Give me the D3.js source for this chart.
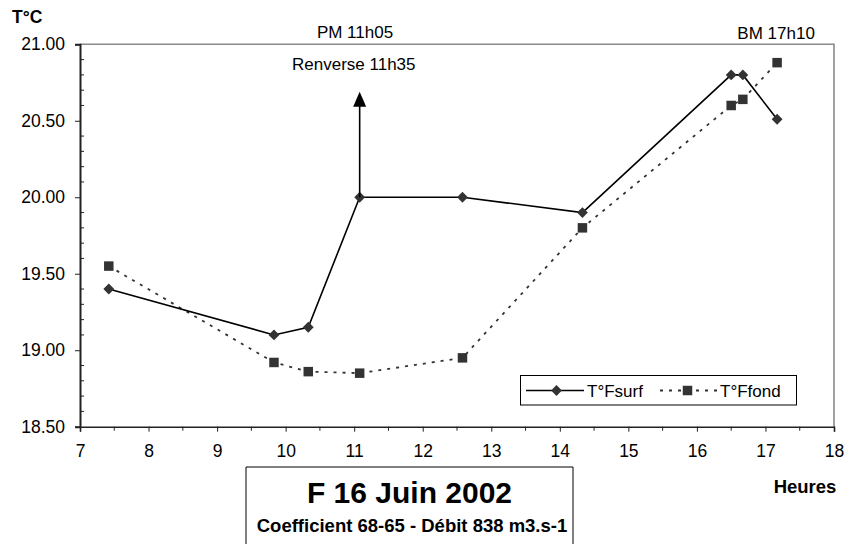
<!DOCTYPE html>
<html>
<head>
<meta charset="utf-8">
<script src="https://cdn.jsdelivr.net/npm/d3@7/dist/d3.min.js"></script>
<style>
  html, body { margin: 0; padding: 0; background: #fff; }
  svg { display: block; font-family: "Liberation Sans", Arial, sans-serif; }
</style>
</head>
<body>
<svg id="chart" width="854" height="544"></svg>
<script>
// Sampling times (decimal hours) and temperatures (°C)
const heures = [7.42, 9.83, 10.33, 11.08, 12.58, 14.33, 16.5, 16.67, 17.17];
const tSurf  = [19.40, 19.10, 19.15, 20.00, 20.00, 19.90, 20.80, 20.80, 20.51];
const tFond  = [19.55, 18.92, 18.86, 18.85, 18.95, 19.80, 20.60, 20.64, 20.88];

const xTicks = [7, 8, 9, 10, 11, 12, 13, 14, 15, 16, 17, 18];
const yTicks = [18.5, 19.0, 19.5, 20.0, 20.5, 21.0];
const seriesNames = ["T°Fsurf", "T°Ffond"];

// Tide annotations
const pleineMer = { label: "PM 11h05", t: 11.08 };
const basseMer  = { label: "BM 17h10", t: 17.17 };
const renverse  = { label: "Renverse 11h35", t: 11.08, from: 20.00, to: 20.69 };

const svg = d3.select("#chart");
const plot = { left: 80, right: 834, top: 44.3, bottom: 426.7 };

const x = d3.scaleLinear().domain([7, 18]).range([plot.left, plot.right]);
const y = d3.scaleLinear().domain([18.5, 21]).range([plot.bottom, plot.top]);

// Plot frame: grey top and right edges
svg.append("path")
  .attr("d", `M${plot.left},${plot.top}H${plot.right}V${plot.bottom}`)
  .attr("fill", "none").attr("stroke", "#8a8a8a").attr("stroke-width", 1.6);

// Minor ticks
const yMinor = d3.range(18.6, 21.0, 0.1).filter(v => Math.abs(v * 2 - Math.round(v * 2)) > 1e-6);
svg.append("g").selectAll("line").data(yMinor).join("line")
  .attr("x1", plot.left).attr("x2", plot.left + 4)
  .attr("y1", d => y(d)).attr("y2", d => y(d))
  .attr("stroke", "#222").attr("stroke-width", 1);
const xMinor = d3.range(7.5, 18, 1);
svg.append("g").selectAll("line").data(xMinor).join("line")
  .attr("x1", d => x(d)).attr("x2", d => x(d))
  .attr("y1", plot.bottom).attr("y2", plot.bottom + 4)
  .attr("stroke", "#222").attr("stroke-width", 1);

// Y axis
const yAxis = svg.append("g").attr("transform", `translate(${plot.left},0)`)
  .call(d3.axisLeft(y).tickValues(yTicks).tickFormat(d3.format(".2f")).tickSize(5).tickPadding(10));
yAxis.select(".domain").attr("stroke", "#222").attr("stroke-width", 2);
yAxis.selectAll(".tick line").attr("stroke", "#222");
yAxis.selectAll("text").attr("font-size", 17.5).attr("fill", "#000")
  .attr("font-family", "Liberation Sans, Arial, sans-serif");

// X axis
const xAxis = svg.append("g").attr("transform", `translate(0,${plot.bottom})`)
  .call(d3.axisBottom(x).tickValues(xTicks).tickFormat(d3.format("d")).tickSize(5).tickPadding(13));
xAxis.select(".domain").attr("stroke", "#222").attr("stroke-width", 1.6);
xAxis.selectAll(".tick line").attr("stroke", "#222");
xAxis.selectAll("text").attr("font-size", 17.5).attr("fill", "#000")
  .attr("font-family", "Liberation Sans, Arial, sans-serif");

// Axis titles
svg.append("text").attr("x", 12).attr("y", 23).attr("font-size", 17.5).attr("font-weight", "bold").text("T°C");
svg.append("text").attr("x", 805).attr("y", 493).attr("text-anchor", "middle")
  .attr("font-size", 18.5).attr("font-weight", "bold").text("Heures");

// Series lines
const line = d3.line().x(d => x(d[0])).y(d => y(d[1]));
const surfPts = heures.map((h, i) => [h, tSurf[i]]);
const fondPts = heures.map((h, i) => [h, tFond[i]]);

svg.append("path").datum(fondPts).attr("d", line)
  .attr("fill", "none").attr("stroke", "#333").attr("stroke-width", 1.8)
  .attr("stroke-dasharray", "3,6");
svg.append("path").datum(surfPts).attr("d", line)
  .attr("fill", "none").attr("stroke", "#000").attr("stroke-width", 1.6);

// Markers
const diamond = d3.symbol().type(d3.symbolDiamond2).size(75);
const square = d3.symbol().type(d3.symbolSquare).size(90);
svg.append("g").selectAll("path").data(fondPts).join("path")
  .attr("d", square).attr("transform", d => `translate(${x(d[0])},${y(d[1])})`)
  .attr("fill", "#333");
svg.append("g").selectAll("path").data(surfPts).join("path")
  .attr("d", diamond).attr("transform", d => `translate(${x(d[0])},${y(d[1])})`)
  .attr("fill", "#333");

// Tide labels
svg.append("text").attr("x", 355).attr("y", 38).attr("text-anchor", "middle")
  .attr("font-size", 17).text(pleineMer.label);
svg.append("text").attr("x", x(basseMer.t) - 1).attr("y", 39).attr("text-anchor", "middle")
  .attr("font-size", 17).text(basseMer.label);
svg.append("text").attr("x", 292).attr("y", 70).attr("font-size", 17).text(renverse.label);

// Current reversal arrow
const ax = x(renverse.t);
svg.append("line").attr("x1", ax).attr("x2", ax)
  .attr("y1", y(renverse.from)).attr("y2", y(renverse.to) + 12)
  .attr("stroke", "#000").attr("stroke-width", 1.6);
svg.append("path")
  .attr("d", `M${ax},${y(renverse.to)} L${ax - 6.5},${y(renverse.to) + 15} L${ax + 6.5},${y(renverse.to) + 15} Z`)
  .attr("fill", "#000");

// Legend
const lg = svg.append("g");
lg.append("rect").attr("x", 520.5).attr("y", 375.5).attr("width", 276).attr("height", 29.5)
  .attr("fill", "#fff").attr("stroke", "#000").attr("stroke-width", 1);
const ly = 390.5;
lg.append("line").attr("x1", 526).attr("x2", 584).attr("y1", ly).attr("y2", ly)
  .attr("stroke", "#000").attr("stroke-width", 1.6);
lg.append("path").attr("d", diamond).attr("transform", `translate(556.5,${ly})`).attr("fill", "#333");
lg.append("text").attr("x", 587).attr("y", ly + 6).attr("font-size", 17).text(seriesNames[0]);
lg.append("line").attr("x1", 660).attr("x2", 717).attr("y1", ly).attr("y2", ly)
  .attr("stroke", "#333").attr("stroke-width", 1.8).attr("stroke-dasharray", "3,6");
lg.append("path").attr("d", square).attr("transform", `translate(687.5,${ly})`).attr("fill", "#333");
lg.append("text").attr("x", 720).attr("y", ly + 6).attr("font-size", 17).text(seriesNames[1]);

// Title box
svg.append("path").attr("d", "M246,550V467H573V550")
  .attr("fill", "#fff").attr("stroke", "#000").attr("stroke-width", 1);
svg.append("text").attr("x", 409.5).attr("y", 503).attr("text-anchor", "middle")
  .attr("font-size", 30).attr("font-weight", "bold").text("F 16 Juin 2002");
svg.append("text").attr("x", 412).attr("y", 531.5).attr("text-anchor", "middle")
  .attr("font-size", 18.5).attr("font-weight", "bold").text("Coefficient 68-65 - Débit 838 m3.s-1");
</script>
</body>
</html>
